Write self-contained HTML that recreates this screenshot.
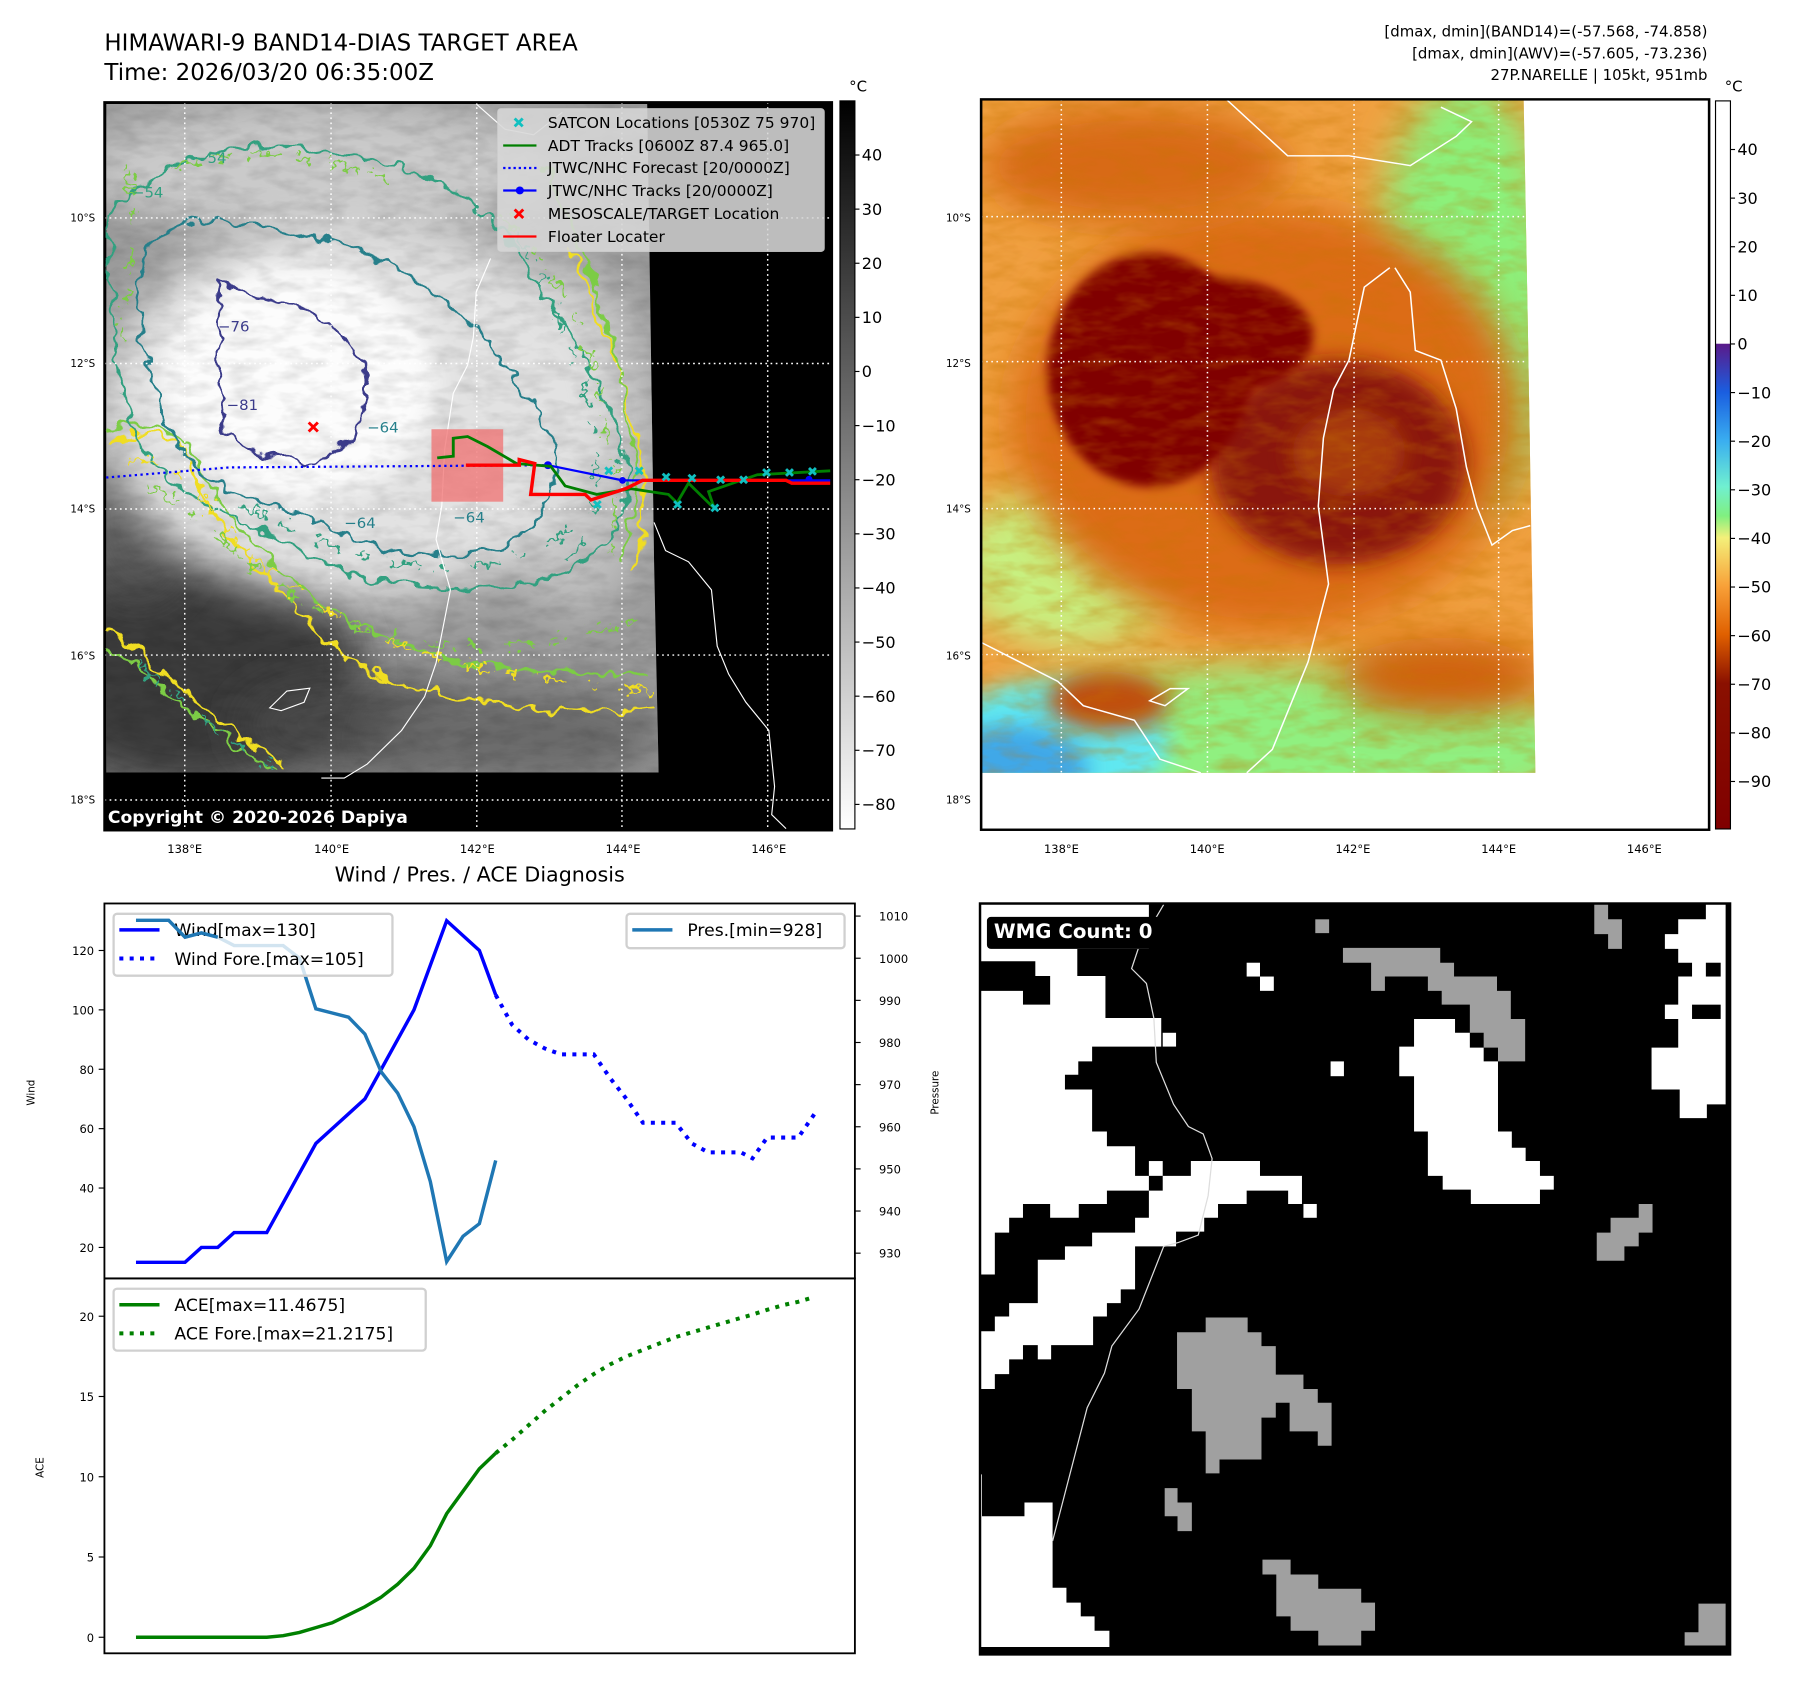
<!DOCTYPE html>
<html><head><meta charset="utf-8">
<style>
html,body{margin:0;padding:0;background:#fff;}
svg{display:block;font-family:"DejaVu Sans","Liberation Sans",sans-serif;}
</style></head>
<body>
<svg id="root" width="1797" height="1690" viewBox="0 0 1566 1474" preserveAspectRatio="none" xmlns="http://www.w3.org/2000/svg">
<defs>
  <filter id="b10" x="-50%" y="-50%" width="200%" height="200%"><feGaussianBlur stdDeviation="10"/></filter>
  <filter id="b20" x="-50%" y="-50%" width="200%" height="200%"><feGaussianBlur stdDeviation="22"/></filter>
  <filter id="b40" x="-50%" y="-50%" width="200%" height="200%"><feGaussianBlur stdDeviation="40"/></filter>
  <filter id="wig" x="-10%" y="-10%" width="120%" height="120%">
    <feTurbulence type="fractalNoise" baseFrequency="0.035" numOctaves="2" seed="3"/>
    <feDisplacementMap in="SourceGraphic" scale="38" xChannelSelector="R" yChannelSelector="G"/>
  </filter>
  <filter id="wig2" x="-10%" y="-10%" width="120%" height="120%">
    <feTurbulence type="fractalNoise" baseFrequency="0.07" numOctaves="2" seed="11"/>
    <feDisplacementMap in="SourceGraphic" scale="45" xChannelSelector="R" yChannelSelector="G"/>
  </filter>
  <filter id="noise" x="0" y="0" width="100%" height="100%">
    <feTurbulence type="fractalNoise" baseFrequency="0.02 0.05" numOctaves="3" seed="7" result="n"/>
    <feColorMatrix in="n" type="matrix" values="0 0 0 0 0  0 0 0 0 0  0 0 0 0 0  0 0 0 -1.2 0.75"/>
  </filter>
  <filter id="noiseR" x="0" y="0" width="100%" height="100%">
    <feTurbulence type="fractalNoise" baseFrequency="0.015 0.04" numOctaves="3" seed="5" result="n"/>
    <feColorMatrix in="n" type="matrix" values="0 0 0 0 0.55  0 0 0 0 0.18  0 0 0 0 0  0 0 0 -2 1.2"/>
  </filter>
  <clipPath id="clipL"><rect x="182" y="182" width="1268" height="1296"/></clipPath>
  <clipPath id="clipR"><rect x="0" y="44" width="1425" height="1501"/></clipPath>
  <linearGradient id="cbGray" x1="0" y1="0" x2="0" y2="1">
    <stop offset="0" stop-color="#000"/><stop offset="1" stop-color="#fff"/>
  </linearGradient>
  <linearGradient id="cbColor" x1="0" y1="0" x2="0" y2="1">
    <stop offset="0" stop-color="#fff"/>
    <stop offset="0.333" stop-color="#fff"/>
    <stop offset="0.334" stop-color="#5a1a8a"/>
    <stop offset="0.40" stop-color="#1a5ee0"/>
    <stop offset="0.467" stop-color="#3aaef0"/>
    <stop offset="0.53" stop-color="#70f0d0"/>
    <stop offset="0.57" stop-color="#80f080"/>
    <stop offset="0.60" stop-color="#f4f07a"/>
    <stop offset="0.667" stop-color="#f8a038"/>
    <stop offset="0.733" stop-color="#e06000"/>
    <stop offset="0.80" stop-color="#8a1000"/>
    <stop offset="1" stop-color="#800000"/>
  </linearGradient>
</defs>

<!-- Titles -->
<text x="91" y="44" font-size="20">HIMAWARI-9 BAND14-DIAS TARGET AREA</text>
<text x="91" y="70" font-size="20">Time: 2026/03/20 06:35:00Z</text>
<g font-size="13" text-anchor="end">
  <text x="1488" y="32">[dmax, dmin](BAND14)=(-57.568, -74.858)</text>
  <text x="1488" y="51">[dmax, dmin](AWV)=(-57.605, -73.236)</text>
  <text x="1488" y="70">27P.NARELLE | 105kt, 951mb</text>
</g>

<!-- LEFT MAP -->
<g transform="scale(0.5,0.49)">
 <g clip-path="url(#clipL)">
  <rect x="182" y="182" width="1268" height="1296" fill="#000"/>
  <g>
   <clipPath id="imgL"><polygon points="185,185 1128,185 1132,450 1140,1000 1148,1375 185,1375"/></clipPath>
   <g clip-path="url(#imgL)">
    <rect x="185" y="185" width="970" height="1200" fill="#9a9a9a"/>
    <ellipse cx="330" cy="1190" rx="300" ry="220" fill="#3a3a3a" filter="url(#b40)"/>
    <ellipse cx="240" cy="930" rx="90" ry="140" fill="#555" filter="url(#b40)"/>
    <ellipse cx="620" cy="1290" rx="200" ry="80" fill="#4a4a4a" filter="url(#b40)"/>
    <ellipse cx="900" cy="1310" rx="260" ry="90" fill="#6a6a6a" filter="url(#b40)"/>
    <ellipse cx="560" cy="300" rx="420" ry="120" fill="#cacaca" filter="url(#b40)"/>
    <ellipse cx="1000" cy="780" rx="150" ry="320" fill="#c0c0c0" filter="url(#b40)"/>
    <ellipse cx="620" cy="730" rx="450" ry="340" fill="#e2e2e2" filter="url(#b40)"/>
    <ellipse cx="520" cy="680" rx="240" ry="210" fill="#fcfcfc" filter="url(#b20)"/>
    <rect x="185" y="185" width="970" height="1200" filter="url(#noise)" opacity="0.18"/>
   </g>
  </g>
  <g fill="none" stroke-width="5" filter="url(#wig)">
   <path d="M185,790 C260,750 320,770 340,850 C380,960 450,1000 530,1100 C600,1200 720,1230 850,1250 C950,1270 1050,1270 1140,1260" stroke="#f0dd20"/>
   <path d="M1000,450 C1040,550 1080,650 1110,760 C1120,850 1130,950 1100,1020" stroke="#f0dd20"/>
   <path d="M185,1120 C280,1180 360,1280 500,1360" stroke="#f0dd20"/>
   <path d="M185,1150 C280,1220 360,1300 480,1370" stroke="#7ccc45"/>
   <path d="M185,770 C280,730 330,780 360,860 C420,960 520,1060 640,1120 C760,1180 900,1200 1130,1200" stroke="#7ccc45"/>
   <path d="M950,300 C1010,420 1060,560 1090,700 C1110,820 1120,900 1080,1000" stroke="#7ccc45"/>
   <path d="M190,380 C300,250 500,230 700,300 C800,330 880,400 930,500 C1000,600 1060,700 1090,830 C1100,950 1050,1010 900,1040 C750,1060 600,1040 500,960 C400,920 300,880 250,800 C200,700 190,550 190,380 Z" stroke="#30a080"/>
   <path d="M245,480 C250,400 340,380 440,400 C560,420 680,450 780,540 C860,600 920,700 965,790 C980,860 950,960 850,985 C740,995 650,980 560,930 C470,900 380,880 330,820 C280,760 240,660 245,480 Z" stroke="#257f8a"/>
   <path d="M380,500 C400,520 470,540 520,540 C580,580 640,620 640,700 C630,770 600,820 530,825 C470,810 420,800 395,770 C385,700 380,600 380,500 Z" stroke="#3a3a8a"/>
  </g>
  <g fill="none" stroke-width="5" filter="url(#wig2)" stroke-dasharray="50,30,20,40">
   <path d="M230,820 C300,800 360,900 430,980 C520,1060 640,1140 800,1180 C920,1210 1040,1220 1130,1230" stroke="#f0dd20"/>
   <path d="M260,870 C330,900 400,980 480,1040 C580,1110 700,1150 820,1150 C950,1150 1050,1120 1120,1100" stroke="#7ccc45"/>
   <path d="M870,380 C950,450 1010,560 1040,680 C1070,800 1080,900 1060,990" stroke="#7ccc45"/>
   <path d="M900,420 C960,520 1000,620 1030,740 C1050,860 1040,950 980,1010" stroke="#30a080"/>
   <path d="M300,300 C420,260 560,270 680,320" stroke="#7ccc45"/>
   <path d="M220,300 C240,380 230,500 210,600" stroke="#7ccc45"/>
   <path d="M240,1180 C320,1250 400,1320 470,1360" stroke="#30a080"/>
   <path d="M420,900 C520,950 620,1000 760,1010 C880,1010 960,980 1000,930" stroke="#30a080"/>
  </g>
  <g font-size="26" fill="#257f8a">
   <text x="340" y="290" fill="#30a080">−54</text><text x="230" y="352" fill="#30a080">−54</text>
   <text x="640" y="770">−64</text><text x="600" y="940">−64</text><text x="790" y="930">−64</text>
   <text x="380" y="590" fill="#3a3a8a">−76</text><text x="395" y="730" fill="#3a3a8a">−81</text>
  </g>
  <g stroke="#fff" stroke-width="2.5" stroke-dasharray="3,6">
   <line x1="322" y1="182" x2="322" y2="1478"/><line x1="577" y1="182" x2="577" y2="1478"/><line x1="831" y1="182" x2="831" y2="1478"/><line x1="1084" y1="182" x2="1084" y2="1478"/><line x1="1338" y1="182" x2="1338" y2="1478"/>
   <line x1="182" y1="388" x2="1450" y2="388"/><line x1="182" y1="647" x2="1450" y2="647"/><line x1="182" y1="906" x2="1450" y2="906"/><line x1="182" y1="1166" x2="1450" y2="1166"/><line x1="182" y1="1424" x2="1450" y2="1424"/>
  </g>
  <g fill="none" stroke="#fff" stroke-width="2">
   <path d="M855,460 L830,520 L825,600 L815,650 L790,700 L775,800 L770,900 L760,960 L785,1050 L760,1180 L740,1240 L700,1300 L640,1360 L600,1385 L560,1385"/>
   <path d="M1140,930 L1160,980 L1200,1000 L1240,1050 L1250,1150 L1270,1200 L1300,1250 L1340,1300 L1350,1400 L1345,1450 L1370,1475"/>
   <path d="M830,185 L880,230 L930,240 L980,200"/>
   <path d="M470,1260 L500,1230 L540,1225 L530,1250 L490,1265 Z"/>
  </g>
  <g>
   <rect x="752" y="764" width="125" height="129" fill="#f07070" opacity="0.75"/>
   <polyline points="185,850 400,832 955,828" fill="none" stroke="#0000ff" stroke-width="4" stroke-dasharray="4,6"/>
   <polyline points="955,828 1085,855 1447,855" fill="none" stroke="#0000ff" stroke-width="4"/>
   <circle cx="955" cy="828" r="7" fill="#0000ff"/><circle cx="1085" cy="855" r="6" fill="#0000ff"/><circle cx="1410" cy="853" r="6" fill="#0000ff"/>
   <polyline points="762,815 790,812 790,780 815,777 850,795 900,825 960,830 985,865 1040,880 1100,870 1165,880 1180,895 1200,860 1245,905 1235,875 1320,845 1447,838" fill="none" stroke="#007f00" stroke-width="5"/>
   <polyline points="812,828 905,828 905,818 932,825 925,880 1020,880 1030,890 1090,870 1120,855 1370,855 1380,860 1447,860" fill="none" stroke="#ff0000" stroke-width="6"/>
   <g stroke="#10c0c0" stroke-width="5">
    <path d="M1055,832l12,12m0,-12l-12,12M1108,832l12,12m0,-12l-12,12M1155,843l12,12m0,-12l-12,12M1175,892l12,12m0,-12l-12,12M1240,898l12,12m0,-12l-12,12M1200,845l12,12m0,-12l-12,12M1250,848l12,12m0,-12l-12,12M1290,848l12,12m0,-12l-12,12M1330,835l12,12m0,-12l-12,12M1370,835l12,12m0,-12l-12,12M1410,833l12,12m0,-12l-12,12M1035,892l12,12m0,-12l-12,12"/>
   </g>
   <path d="M538,752l16,16m0,-16l-16,16" stroke="#ff0000" stroke-width="5"/>
  </g>
  <g>
   <rect x="867" y="193" width="570" height="255" rx="6" fill="#d8d8d8" opacity="0.88" stroke="#ccc"/>
   <g font-size="27" fill="#000">
    <text x="955" y="228">SATCON Locations [0530Z 75 970]</text>
    <text x="955" y="269">ADT Tracks [0600Z 87.4 965.0]</text>
    <text x="955" y="308">JTWC/NHC Forecast [20/0000Z]</text>
    <text x="955" y="349">JTWC/NHC Tracks [20/0000Z]</text>
    <text x="955" y="390">MESOSCALE/TARGET Location</text>
    <text x="955" y="431">Floater Locater</text>
   </g>
   <path d="M897,211l14,14m0,-14l-14,14" stroke="#10c0c0" stroke-width="5"/>
   <line x1="877" y1="259" x2="935" y2="259" stroke="#007f00" stroke-width="4"/>
   <line x1="877" y1="299" x2="935" y2="299" stroke="#0000ff" stroke-width="4" stroke-dasharray="4,5"/>
   <line x1="877" y1="339" x2="935" y2="339" stroke="#0000ff" stroke-width="4"/><circle cx="906" cy="339" r="7" fill="#0000ff"/>
   <path d="M897,373l15,15m0,-15l-15,15" stroke="#ff0000" stroke-width="5"/>
   <line x1="877" y1="421" x2="935" y2="421" stroke="#ff0000" stroke-width="4"/>
  </g>
  <text x="188" y="1465" font-size="30" font-weight="bold" fill="#fff">Copyright © 2020-2026 Dapiya</text>
 </g>
 <rect x="182" y="182" width="1268" height="1296" fill="none" stroke="#000" stroke-width="4"/>
</g>
<g font-size="10" text-anchor="middle">
  <text x="161" y="744">138°E</text><text x="289" y="744">140°E</text><text x="416" y="744">142°E</text><text x="543" y="744">144°E</text><text x="670" y="744">146°E</text>
</g>
<g font-size="9" text-anchor="end">
  <text x="83" y="193">10°S</text><text x="83" y="320">12°S</text><text x="83" y="447">14°S</text><text x="83" y="575">16°S</text><text x="83" y="701">18°S</text>
</g>
<g>
  <rect x="732" y="88" width="13" height="635" fill="url(#cbGray)" stroke="#000" stroke-width="1"/>
  <text x="740" y="80" font-size="13">°C</text>
  <g font-size="14" id="cbLeftTicks"></g>
</g>
<text x="418" y="769" font-size="18" text-anchor="middle">Wind / Pres. / ACE Diagnosis</text>

<!-- RIGHT MAP -->
<g transform="translate(855,68) scale(0.4452,0.4244)">
 <g clip-path="url(#clipR)">
  <rect x="0" y="44" width="1425" height="1501" fill="#fff"/>
  <clipPath id="imgR"><polygon points="0,44 1062,44 1070,500 1078,1000 1085,1428 0,1428"/></clipPath>
  <g clip-path="url(#imgR)">
   <rect x="0" y="44" width="1100" height="1400" fill="#f0a040"/>
   <ellipse cx="950" cy="450" rx="180" ry="450" fill="#8cf07a" filter="url(#b40)"/>
   <ellipse cx="560" cy="1380" rx="620" ry="170" fill="#90f080" filter="url(#b40)"/>
   <ellipse cx="180" cy="1000" rx="230" ry="170" fill="#c8f080" filter="url(#b40)"/>
   <ellipse cx="140" cy="1370" rx="230" ry="130" fill="#60e8f0" filter="url(#b20)"/>
   <ellipse cx="60" cy="1420" rx="150" ry="90" fill="#40a8e8" filter="url(#b20)"/>
   <ellipse cx="560" cy="700" rx="500" ry="440" fill="#dc6c14" filter="url(#b40)"/>
   <ellipse cx="300" cy="180" rx="300" ry="120" fill="#d86a18" filter="url(#b40)"/>
   <ellipse cx="900" cy="1230" rx="200" ry="80" fill="#d06010" filter="url(#b40)"/>
   <ellipse cx="250" cy="1280" rx="120" ry="60" fill="#c05010" filter="url(#b20)"/>
   <ellipse cx="700" cy="790" rx="250" ry="210" fill="#8a1808" filter="url(#b20)"/>
   <ellipse cx="720" cy="770" rx="110" ry="90" fill="#a83a10" filter="url(#b20)"/>
   <ellipse cx="330" cy="600" rx="200" ry="240" fill="#800000" filter="url(#b10)"/>
   <ellipse cx="450" cy="530" rx="200" ry="120" fill="#800000" filter="url(#b10)"/>
   <rect x="0" y="44" width="1100" height="1400" filter="url(#noiseR)" opacity="0.35"/>
  </g>
  <g stroke="#fff" stroke-width="3" stroke-dasharray="3,7">
   <line x1="157" y1="44" x2="157" y2="1428"/><line x1="443" y1="44" x2="443" y2="1428"/><line x1="730" y1="44" x2="730" y2="1428"/><line x1="1013" y1="44" x2="1013" y2="1428"/>
   <line x1="0" y1="285" x2="1070" y2="285"/><line x1="0" y1="583" x2="1070" y2="583"/><line x1="0" y1="885" x2="1075" y2="885"/><line x1="0" y1="1185" x2="1080" y2="1185"/>
  </g>
  <g fill="none" stroke="#fff" stroke-width="3">
   <path d="M480,44 L600,160 L720,160 L840,180 L930,120 L960,90 L900,60"/>
   <path d="M810,390 L840,440 L850,560 L900,580 L930,680 L950,800 L970,880 L1000,960 L1040,930 L1075,920"/>
   <path d="M800,390 L750,430 L720,580 L690,640 L670,740 L660,880 L680,1040 L640,1200 L570,1380 L520,1428"/>
   <path d="M0,1160 L150,1240 L200,1290 L300,1320 L350,1400 L430,1428"/>
   <path d="M330,1280 L370,1255 L405,1255 L360,1290 Z"/>
  </g>
 </g>
 <rect x="0" y="44" width="1425" height="1501" fill="none" stroke="#000" stroke-width="5"/>
</g>
<g font-size="10" text-anchor="middle">
  <text x="925" y="744">138°E</text><text x="1052" y="744">140°E</text><text x="1179" y="744">142°E</text><text x="1306" y="744">144°E</text><text x="1433" y="744">146°E</text>
</g>
<g font-size="9" text-anchor="end">
  <text x="846" y="193">10°S</text><text x="846" y="320">12°S</text><text x="846" y="447">14°S</text><text x="846" y="575">16°S</text><text x="846" y="701">18°S</text>
</g>
<g>
  <rect x="1495" y="88" width="13" height="635" fill="url(#cbColor)" stroke="#000" stroke-width="1"/>
  <text x="1503" y="80" font-size="13">°C</text>
  <g font-size="14" id="cbRightTicks"></g>
</g>

<!-- WMG PANEL -->
<g transform="translate(850.6,784.6) scale(0.4303)">
  <rect x="8" y="8" width="1519" height="1522" fill="#000"/>
  <g fill="#fff">
   <polygon points="8,10 350,10 350,100 205,100 205,155 262,155 262,240 375,240 375,298 235,298 235,328 207,328 207,355 180,355 180,385 235,385 235,470 265,470 265,500 322,500 322,560 350,560 350,590 265,590 265,617 208,617 208,645 150,645 150,617 95,617 95,645 67,645 67,675 38,675 38,760 8,760"/>
   <polygon points="435,530 575,530 575,560 660,560 660,617 632,617 632,590 548,590 548,617 490,617 490,645 462,645 462,673 405,673 405,703 322,703 322,790 293,790 293,818 265,818 265,845 237,845 237,903 152,903 152,932 125,932 125,903 95,903 95,932 67,932 67,962 38,962 38,992 8,992 8,875 38,875 38,845 67,845 67,818 125,818 125,730 180,730 180,703 235,703 235,675 322,675 322,645 350,645 350,590 378,590 378,560 435,560"/>
   <polygon points="8,1165 12,1165 12,1250 98,1250 98,1222 155,1222 155,1395 183,1395 183,1425 212,1425 212,1453 240,1453 240,1482 270,1482 270,1515 8,1515"/>
   <polygon points="887,242 970,242 970,270 1000,270 1000,300 1028,300 1028,328 1057,328 1057,470 1085,470 1085,503 1113,503 1113,530 1142,530 1142,560 1170,560 1170,588 1142,588 1142,617 1002,617 1002,588 945,588 945,560 915,560 915,470 887,470 887,358 857,358 857,298 887,298"/>
   <polygon points="1478,10 1518,10 1518,415 1480,415 1480,443 1425,443 1425,385 1368,385 1368,300 1422,300 1422,242 1395,242 1395,213 1422,213 1422,156 1450,156 1450,128 1422,128 1422,100 1395,100 1395,70 1422,70 1422,40 1478,40"/>
   <rect x="548" y="128" width="27" height="28"/><rect x="575" y="156" width="28" height="29"/><rect x="378" y="270" width="27" height="28"/><rect x="718" y="328" width="27" height="30"/><rect x="663" y="617" width="27" height="28"/><rect x="350" y="530" width="28" height="30"/>
  </g>
  <g fill="#000">
   <polygon points="8,125 120,125 120,155 150,155 150,213 95,213 95,185 8,185"/>
   <rect x="1478" y="128" width="30" height="28"/><rect x="1450" y="213" width="58" height="29"/>
  </g>
  <g fill="#a0a0a0">
   <rect x="687" y="40" width="28" height="28"/>
   <polygon points="1252,10 1280,10 1280,40 1308,40 1308,100 1280,100 1280,70 1252,70"/>
   <polygon points="743,98 940,98 940,128 968,128 968,156 1055,156 1055,185 1083,185 1083,242 1112,242 1112,328 1057,328 1057,300 1028,300 1028,270 1000,270 1000,213 943,213 943,185 915,185 915,156 828,156 828,185 800,185 800,128 743,128"/>
   <polygon points="1342,617 1370,617 1370,675 1342,675 1342,703 1313,703 1313,732 1257,732 1257,675 1285,675 1285,645 1342,645"/>
   <polygon points="465,847 550,847 550,877 578,877 578,905 607,905 607,963 663,963 663,992 692,992 692,1020 720,1020 720,1107 692,1107 692,1078 635,1078 635,1020 607,1020 607,1050 578,1050 578,1135 493,1135 493,1163 465,1163 465,1078 437,1078 437,992 407,992 407,877 465,877"/>
   <polygon points="382,1193 408,1193 408,1222 437,1222 437,1280 408,1280 408,1250 382,1250"/>
   <polygon points="580,1338 637,1338 637,1368 693,1368 693,1397 780,1397 780,1425 808,1425 808,1482 780,1482 780,1512 693,1512 693,1482 637,1482 637,1453 608,1453 608,1368 580,1368"/>
   <polygon points="1463,1427 1518,1427 1518,1512 1435,1512 1435,1485 1463,1485"/>
  </g>
  <path d="M380,10 L330,95 L315,140 L345,170 L360,240 L365,330 L400,415 L430,460 L460,475 L478,525 L470,600 L450,680 L410,695 L380,703 L330,830 L275,905 L260,960 L225,1030 L155,1300" fill="none" stroke="#ddd" stroke-width="2.5"/>
  <rect x="22" y="35" width="353" height="65" rx="8" fill="#000"/>
  <text x="36" y="78" font-size="40" font-weight="bold" fill="#fff">WMG Count: 0</text>
  <rect x="8" y="8" width="1519" height="1522" fill="none" stroke="#000" stroke-width="5"/>
</g>

<!-- DIAGNOSIS CHARTS -->
<g id="diag"></g>

<script>
// ---- data ----
const histIdx = [0,1,2,3,4,5,6,7,8,9,10,11,12,13,14,15,16,17,18,19,20,21,22];
const windVals = [15,15,15,15,20,20,25,25,25,35,45,55,60,65,70,80,90,100,115,130,125,120,105];
const presVals = [1009,1009,1009,1005,1006,1005,1003,1003,1003,1003,1000,988,987,986,982,973,968,960,947,928,934,937,952];
const aceVals = [0,0,0,0,0,0,0,0,0,0.1,0.3,0.6,0.9,1.4,1.9,2.5,3.3,4.3,5.7,7.7,9.1,10.5,11.47];
const foreIdx = [22,23,24,25,26,27,28,29,30,31,32,33,34,35,36,37,37.7,38.6,39.6,40.5,41.5];
const windFore = [105,95,90,87,85,85,85,77,70,62,62,62,55,52,52,52,50,57,57,57,65];
const aceFore = [11.47,12.3,13.2,14.1,14.9,15.7,16.4,17.0,17.5,17.9,18.3,18.7,19.0,19.3,19.6,19.9,20.1,20.4,20.7,20.9,21.2];
const windTicks = [20,40,60,80,100,120];
const presTicks = [930,940,950,960,970,980,990,1000,1010];
const aceTicks = [0,5,10,15,20];
const cbLeftTicks = [40,30,20,10,0,-10,-20,-30,-40,-50,-60,-70,-80];
const cbRightTicks = [40,30,20,10,0,-10,-20,-30,-40,-50,-60,-70,-80,-90];

// ---- axes ----
const xS = i => 118.5 + i * 14.25;
const yWind = v => 1088 - (v - 20) * 2.59;
const yPres = p => 1093 - (p - 930) * 3.675;
const yAce = a => 1428 - a * 14.0;
const yCbL = t => 324 - t * 4.72;
const yCbR = t => 300 - t * 4.24;

const NS = 'http://www.w3.org/2000/svg';
function mk(tag, attrs, parent, txt) {
  const e = document.createElementNS(NS, tag);
  for (const k in attrs) e.setAttribute(k, attrs[k]);
  if (txt !== undefined) e.textContent = txt;
  parent.appendChild(e);
  return e;
}
const minus = t => (t < 0 ? '\u2212' + Math.abs(t) : String(t));

const cbl = document.getElementById('cbLeftTicks');
cbLeftTicks.forEach(t => {
  const y = yCbL(t);
  const l = mk('line', {x1: 745, x2: 749, y1: y, y2: y, stroke: '#000'}, cbl);
  
  
  const tx = mk('text', {x: 751, y: y + 5}, cbl, minus(t));
  
  
});
const cbr = document.getElementById('cbRightTicks');
cbRightTicks.forEach(t => {
  const y = yCbR(t);
  const l = mk('line', {x1: 1508, x2: 1512, y1: y, y2: y, stroke: '#000'}, cbr);
  
  
  const tx = mk('text', {x: 1514, y: y + 5}, cbr, minus(t));
  
  
});

const g = document.getElementById('diag');
const f1 = mk('rect', {x: 91, y: 788, width: 654, height: 327, fill: 'none', stroke: '#000', 'stroke-width': 1.6}, g);


const f2 = mk('rect', {x: 91, y: 1115, width: 654, height: 327, fill: 'none', stroke: '#000', 'stroke-width': 1.6}, g);



windTicks.forEach(t => {
  const y = yWind(t);
  mk('line', {x1: 86, x2: 91, y1: y, y2: y, stroke: '#000'}, g);
  const tx = mk('text', {x: 82, y: y + 4, 'font-size': 10, 'text-anchor': 'end'}, g, t);
  
  
});
presTicks.forEach(t => {
  const y = yPres(t);
  mk('line', {x1: 745, x2: 750, y1: y, y2: y, stroke: '#000'}, g);
  const tx = mk('text', {x: 766, y: y + 4, 'font-size': 10}, g, t);
  
  
});
aceTicks.forEach(t => {
  const y = yAce(t);
  mk('line', {x1: 86, x2: 91, y1: y, y2: y, stroke: '#000'}, g);
  const tx = mk('text', {x: 82, y: y + 4, 'font-size': 10, 'text-anchor': 'end'}, g, t);
  
  
});
const al1 = mk('text', {x: 30, y: 953, 'font-size': 9, 'text-anchor': 'middle', transform: 'rotate(-90 30 953)'}, g, 'Wind');


const al2 = mk('text', {x: 818, y: 953, 'font-size': 9, 'text-anchor': 'middle', transform: 'rotate(-90 818 953)'}, g, 'Pressure');


const al3 = mk('text', {x: 38, y: 1280, 'font-size': 9, 'text-anchor': 'middle', transform: 'rotate(-90 38 1280)'}, g, 'ACE');



function pts(xs, ys, yf) { return xs.map((x, i) => xS(x) + ',' + yf(ys[i])).join(' '); }
const lw = mk('polyline', {points: pts(histIdx, windVals, yWind), fill: 'none', stroke: '#0000ff', 'stroke-width': 3}, g);


const lwf = mk('polyline', {points: pts(foreIdx, windFore, yWind), fill: 'none', stroke: '#0000ff', 'stroke-width': 3.5, 'stroke-dasharray': '3.5,5.5'}, g);


const lp = mk('polyline', {points: pts(histIdx, presVals, yPres), fill: 'none', stroke: '#1f77b4', 'stroke-width': 3}, g);


const la = mk('polyline', {points: pts(histIdx, aceVals, yAce), fill: 'none', stroke: '#008000', 'stroke-width': 3}, g);


const laf = mk('polyline', {points: pts(foreIdx, aceFore, yAce), fill: 'none', stroke: '#008000', 'stroke-width': 3.5, 'stroke-dasharray': '3.5,5.5'}, g);



function legend(x, y, w, h, items, name) {
  const lg = mk('g', {}, g);
  
  
  mk('rect', {x: x, y: y, width: w, height: h, rx: 3, fill: '#fff', 'fill-opacity': 0.8, stroke: '#d0d0d0', 'stroke-width': 2}, lg);
  items.forEach((it, k) => {
    const yy = y + 14 + k * 25;
    mk('line', {x1: x + 5, x2: x + 40, y1: yy, y2: yy, stroke: it.c, 'stroke-width': it.d ? 3.5 : 3, 'stroke-dasharray': it.d ? '3.5,5.5' : 'none'}, lg);
    mk('text', {x: x + 53, y: yy + 5.5, 'font-size': 15}, lg, it.t);
  });
}
legend(99, 797, 243, 54, [{c: '#0000ff', t: 'Wind[max=130]'}, {c: '#0000ff', t: 'Wind Fore.[max=105]', d: 1}], 'wind-legend');
legend(546, 797, 190, 30, [{c: '#1f77b4', t: 'Pres.[min=928]'}], 'pressure-legend');
legend(99, 1124, 272, 54, [{c: '#008000', t: 'ACE[max=11.4675]'}, {c: '#008000', t: 'ACE Fore.[max=21.2175]', d: 1}], 'ace-legend');
const lp2 = mk('polyline', {points: pts(histIdx.slice(0, 6), presVals.slice(0, 6), yPres), fill: 'none', stroke: '#1f77b4', 'stroke-width': 3}, g);


</script>
</svg>
</body></html>
